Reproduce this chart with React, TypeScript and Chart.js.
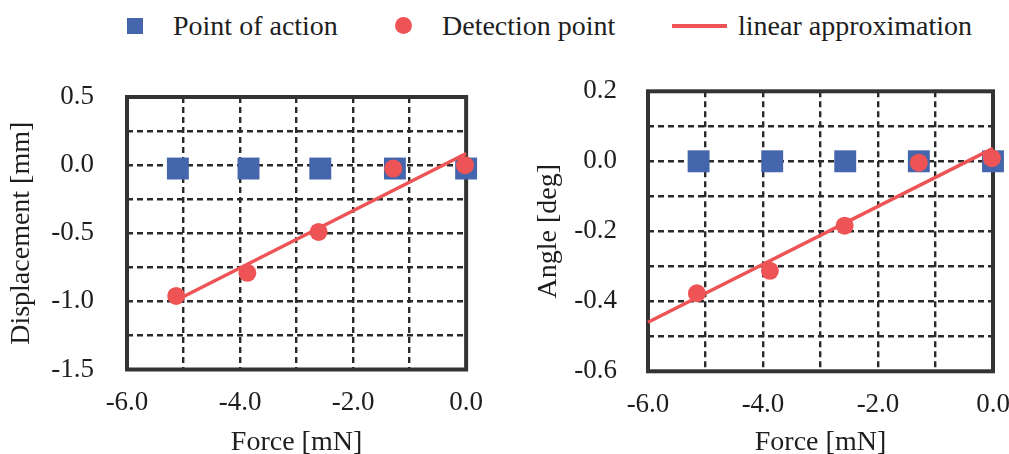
import React, { useEffect, useRef } from "react";
import { Chart, registerables } from "chart.js";

Chart.register(...registerables);

// ---- data ----
const legendLabels = ["Point of action", "Detection point", "linear approximation"];

// Left chart: Displacement [mm] vs Force [mN]
const dispActionForce = [-5.1, -3.85, -2.58, -1.26, 0.0];
const dispActionValue = [-0.025, -0.025, -0.025, -0.025, -0.025];
const dispDetectForce = [-5.13, -3.87, -2.61, -1.29, -0.02];
const dispDetectValue = [-0.96, -0.79, -0.49, -0.025, 0.0];
const dispFitForce = [-5.12, 0.0];
const dispFitValue = [-0.99, 0.085];

// Right chart: Angle [deg] vs Force [mN]
const angleActionForce = [-5.12, -3.84, -2.57, -1.29, 0.0];
const angleActionValue = [0.0, 0.0, 0.0, 0.0, 0.0];
const angleDetectForce = [-5.15, -3.88, -2.58, -1.29, -0.02];
const angleDetectValue = [-0.377, -0.313, -0.184, -0.004, 0.009];
const angleFitForce = [-6.0, 0.0];
const angleFitValue = [-0.46, 0.037];

const BLUE = "#4565ad";
const RED = "#ee5455";
const INK = "#1e1e1e";
const GRID = "#2a2a2a";
const FONT = "'Liberation Serif', 'Times New Roman', serif";

const pts = (xs: number[], ys: number[]) => xs.map((x, i) => ({ x, y: ys[i] }));

const framePlugin = {
  id: "frame",
  beforeDatasetsDraw(chart: any) {
    const { ctx, chartArea: a } = chart;
    ctx.save();
    ctx.strokeStyle = "#333333";
    ctx.lineWidth = 4;
    ctx.setLineDash([]);
    ctx.strokeRect(a.left, a.top, a.right - a.left, a.bottom - a.top);
    ctx.restore();
  },
};

const fmt = (v: number) => (Math.abs(v) < 1e-9 ? "0.0" : v.toFixed(1));

function makeConfig(p: {
  actX: number[]; actY: number[]; detX: number[]; detY: number[]; fitX: number[]; fitY: number[];
  yMin: number; yMax: number; yStep: number; yLabelStep: number; yTitle: string;
  padTop: number; padRight: number; yWidth: number; xHeight: number;
  yTickPad: number; yTitlePad: number; xTitlePad: number;
}) {
  return {
    type: "scatter" as const,
    data: {
      datasets: [
        {
          label: legendLabels[1],
          data: pts(p.detX, p.detY),
          pointStyle: "circle",
          pointRadius: 9,
          backgroundColor: RED,
          borderWidth: 0,
          showLine: false,
          order: 1,
          clip: false,
        },
        {
          label: legendLabels[2],
          data: pts(p.fitX, p.fitY),
          showLine: true,
          pointRadius: 0,
          borderColor: RED,
          borderWidth: 3.5,
          order: 2,
          clip: false,
        },
        {
          label: legendLabels[0],
          data: pts(p.actX, p.actY),
          pointStyle: "rect",
          pointRadius: 15.5,
          backgroundColor: BLUE,
          borderWidth: 0,
          showLine: false,
          order: 3,
          clip: false,
        },
      ],
    },
    options: {
      responsive: false,
      animation: false as const,
      events: [],
      layout: { padding: { left: 0, top: p.padTop, right: p.padRight, bottom: 0 } },
      plugins: { legend: { display: false }, tooltip: { enabled: false } },
      scales: {
        x: {
          type: "linear" as const,
          min: -6,
          max: 0,
          afterFit: (s: any) => { s.height = p.xHeight; },
          ticks: {
            stepSize: 1,
            autoSkip: false,
            maxRotation: 0,
            padding: 17,
            color: INK,
            font: { family: FONT, size: 27 },
            callback: (v: any) => (Math.round(Number(v)) % 2 === 0 ? fmt(Number(v)) : ""),
          },
          grid: { color: GRID, lineWidth: 2.4, drawTicks: false },
          border: { display: false, dash: [6, 4] },
          title: {
            display: true,
            text: "Force [mN]",
            color: INK,
            font: { family: FONT, size: 28 },
            padding: { top: 0, bottom: p.xTitlePad },
          },
        },
        y: {
          type: "linear" as const,
          min: p.yMin,
          max: p.yMax,
          afterFit: (s: any) => { s.width = p.yWidth; },
          ticks: {
            stepSize: p.yStep,
            autoSkip: false,
            padding: p.yTickPad,
            color: INK,
            font: { family: FONT, size: 27 },
            callback: (v: any) => {
              const n = Number(v) / p.yLabelStep;
              return Math.abs(n - Math.round(n)) < 1e-6 ? fmt(Number(v)) : "";
            },
          },
          grid: { color: GRID, lineWidth: 2.4, drawTicks: false },
          border: { display: false, dash: [6, 4] },
          title: {
            display: true,
            text: p.yTitle,
            color: INK,
            font: { family: FONT, size: 28 },
            padding: { top: p.yTitlePad, bottom: 0 },
          },
        },
      },
    },
    plugins: [framePlugin],
  };
}

function ChartCanvas({ config, style, width, height }: any) {
  const ref = useRef<HTMLCanvasElement | null>(null);
  useEffect(() => {
    if (!ref.current) return;
    const chart = new Chart(ref.current, config as any);
    return () => chart.destroy();
  }, []);
  return (
    <canvas
      ref={ref}
      width={width}
      height={height}
      style={{ position: "absolute", width, height, ...style }}
    />
  );
}

const legendText: React.CSSProperties = {
  position: "absolute",
  top: 12,
  fontFamily: FONT,
  fontSize: 28,
  lineHeight: "28px",
  color: INK,
  whiteSpace: "nowrap",
};

export default function App() {
  const leftConfig = makeConfig({
    actX: dispActionForce, actY: dispActionValue,
    detX: dispDetectForce, detY: dispDetectValue,
    fitX: dispFitForce, fitY: dispFitValue,
    yMin: -1.5, yMax: 0.5, yStep: 0.25, yLabelStep: 0.5,
    yTitle: "Displacement [mm]",
    padTop: 97, padRight: 27, yWidth: 127, xHeight: 110.5,
    yTickPad: 33, yTitlePad: 5, xTitlePad: 21,
  });
  const rightConfig = makeConfig({
    actX: angleActionForce, actY: angleActionValue,
    detX: angleDetectForce, detY: angleDetectValue,
    fitX: angleFitForce, fitY: angleFitValue,
    yMin: -0.6, yMax: 0.2, yStep: 0.1, yLabelStep: 0.2,
    yTitle: "Angle [deg]",
    padTop: 91.3, padRight: 47, yWidth: 148, xHeight: 108.7,
    yTickPad: 31, yTitlePad: 32, xTitlePad: 21,
  });

  return (
    <div
      style={{
        position: "absolute",
        left: 0,
        top: 0,
        width: 1009,
        height: 454,
        overflow: "hidden",
        background: "#ffffff",
      }}
    >
      {/* legend */}
      <div style={{ position: "absolute", left: 127, top: 18, width: 16, height: 16, background: BLUE }} />
      <div style={{ ...legendText, left: 173 }}>{legendLabels[0]}</div>
      <div style={{ position: "absolute", left: 395, top: 17, width: 17, height: 17, borderRadius: "50%", background: RED }} />
      <div style={{ ...legendText, left: 442 }}>{legendLabels[1]}</div>
      <div style={{ position: "absolute", left: 672, top: 24, width: 55, height: 4, background: RED }} />
      <div style={{ ...legendText, left: 738 }}>{legendLabels[2]}</div>

      <ChartCanvas config={leftConfig} width={500} height={480} style={{ left: 0, top: 0 }} />
      <ChartCanvas config={rightConfig} width={540} height={480} style={{ left: 500, top: 0 }} />
    </div>
  );
}
